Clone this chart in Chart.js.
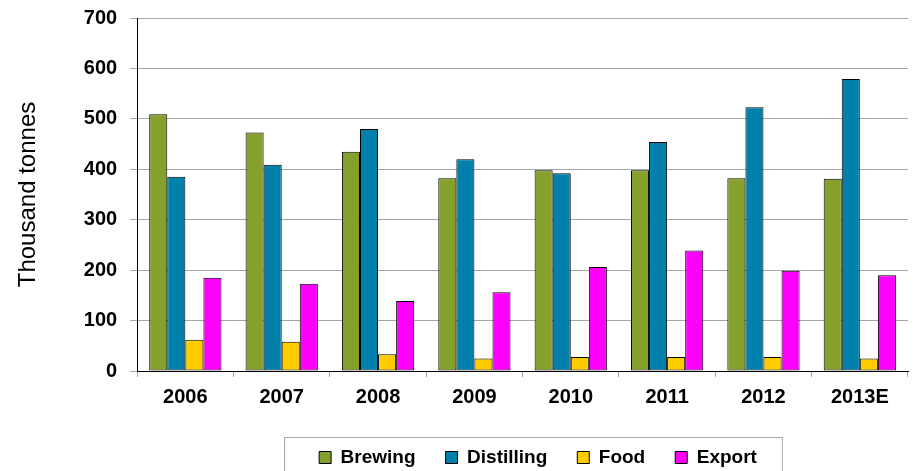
<!DOCTYPE html>
<html lang="en">
<head>
    <meta charset="UTF-8">
    <title>Thousand tonnes by use</title>
    <script src="https://cdn.jsdelivr.net/npm/chart.js@4.4.0/dist/chart.umd.min.js"></script>
    <style>
        body {
            margin: 0;
            background-color: white;
        }
        .chart-box {
            width: 916px;
            height: 471px;
        }
    </style>
</head>
<body>
    <div class="chart-box">
        <canvas id="usageChart" width="916" height="471"></canvas>
    </div>

    <script>
        const years = ['2006', '2007', '2008', '2009', '2010', '2011', '2012', '2013E'];
        const brewing = [509, 473, 435, 382, 398, 398, 382, 381];
        const distilling = [385, 409, 480, 420, 392, 454, 523, 579];
        const food = [62, 58, 33, 25, 28, 28, 28, 25];
        const exportTonnes = [185, 173, 139, 156, 206, 239, 199, 190];
        const yTicks = [0, 100, 200, 300, 400, 500, 600, 700];

        const fontFamily = '"Liberation Sans", Arial, sans-serif';

        function makeSet(label, data, color) {
            return {
                label: label,
                data: data,
                backgroundColor: color,
                borderColor: '#000',
                borderWidth: 1,
                borderSkipped: false,
                categoryPercentage: 0.75,
                barPercentage: 1.0
            };
        }

        // the legend sits a bit right of centre in the original, with a frame round it
        const legendFrame = {
            id: 'legendFrame',
            afterLayout(chart) {
                const lg = chart.legend;
                lg.left += 78;
                lg.right += 78;
                lg.top += 1;
                lg.bottom += 1;
            },
            afterDraw(chart) {
                const boxes = chart.legend.legendHitBoxes;
                if (!boxes || !boxes.length) return;
                const first = boxes[0];
                const last = boxes[boxes.length - 1];
                const ctx = chart.ctx;
                ctx.save();
                ctx.strokeStyle = '#a6a6a6';
                ctx.lineWidth = 1;
                const left = first.left - 35;
                const right = last.left + last.width + 25;
                const top = first.top - 11;
                ctx.strokeRect(left + 0.5, top + 0.5, right - left, chart.height - top + 10);
                ctx.restore();
            }
        };

        const ctx = document.getElementById('usageChart').getContext('2d');
        const chart = new Chart(ctx, {
            type: 'bar',
            data: {
                labels: years,
                datasets: [
                    makeSet('Brewing', brewing, '#86a02e'),
                    makeSet('Distilling', distilling, '#0080aa'),
                    makeSet('Food', food, '#ffcc00'),
                    makeSet('Export', exportTonnes, '#ff00ff')
                ]
            },
            options: {
                responsive: false,
                animation: false,
                layout: {
                    padding: { left: 12, right: 8, top: 0, bottom: -5 }
                },
                plugins: {
                    legend: {
                        position: 'bottom',
                        labels: {
                            boxWidth: 12,
                            boxHeight: 12,
                            padding: 30,
                            color: '#000',
                            font: { family: fontFamily, size: 19, weight: 'bold' }
                        }
                    },
                    tooltip: { enabled: false }
                },
                scales: {
                    x: {
                        grid: {
                            offset: true,
                            drawOnChartArea: false,
                            drawTicks: true,
                            tickLength: 6,
                            color: '#a6a6a6'
                        },
                        border: { color: '#000', width: 1 },
                        ticks: {
                            color: '#000',
                            padding: 8,
                            font: { family: fontFamily, size: 20, weight: 'bold' }
                        }
                    },
                    y: {
                        min: 0,
                        max: 700,
                        afterBuildTicks(axis) {
                            axis.ticks = yTicks.map(v => ({ value: v }));
                        },
                        grid: {
                            color: '#a6a6a6',
                            tickLength: 7
                        },
                        border: { color: '#000', width: 1 },
                        ticks: {
                            color: '#000',
                            padding: 13,
                            font: { family: fontFamily, size: 20, weight: 'bold', lineHeight: 0.5 }
                        },
                        title: {
                            display: true,
                            text: 'Thousand tonnes',
                            color: '#000',
                            padding: { top: 2, bottom: 28 },
                            font: { family: fontFamily, size: 24 }
                        }
                    }
                }
            },
            plugins: [legendFrame]
        });
    </script>
</body>
</html>
